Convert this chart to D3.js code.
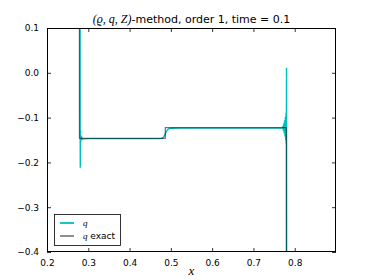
<!DOCTYPE html>
<html>
<head>
<meta charset="utf-8">
<script src="https://cdn.jsdelivr.net/npm/d3@7"></script>
<style>
  body { margin: 0; background: #fff; }
  svg { display: block; }
</style>
</head>
<body>
<div id="viz"></div>
<script>
// numerical solution q
var qX = [0.20, 0.2800, 0.2803, 0.2806, 0.2809, 0.2812, 0.2816, 0.2820, 0.2826, 0.2834, 0.2845, 0.2860, 0.30,
          0.40, 0.470, 0.478, 0.482, 0.485, 0.488, 0.491, 0.494, 0.498, 0.505, 0.52, 0.60, 0.70, 0.765,
          0.7700, 0.7715, 0.7725, 0.7735, 0.7745, 0.7755, 0.7765, 0.7775, 0.7783, 0.7790, 0.7796, 0.7802, 0.7806, 0.90];
var qY = [0.5, 0.5, -0.125, -0.212, -0.128, -0.158, -0.138, -0.152, -0.143, -0.150, -0.145, -0.148, -0.147,
          -0.147, -0.147, -0.1465, -0.144, -0.139, -0.133, -0.128, -0.1255, -0.124, -0.1237, -0.1236, -0.1236, -0.1236, -0.1236,
          -0.1230, -0.119, -0.129, -0.113, -0.135, -0.106, -0.142, -0.098, -0.150, -0.090, -0.157, 0.011, -0.6, -0.6];

// exact solution
var exX = [0.20, 0.2785, 0.2786, 0.4865, 0.4866, 0.7797, 0.7798, 0.90];
var exY = [0.5, 0.5, -0.1465, -0.1465, -0.1225, -0.1225, -0.6, -0.6];

var xTicks = [0.2, 0.3, 0.4, 0.5, 0.6, 0.7, 0.8];
var yTicks = [0.1, 0.0, -0.1, -0.2, -0.3, -0.4];

var width = 374, height = 280;
var margin = {top: 28, right: 38, bottom: 28, left: 47};

var x = d3.scaleLinear().domain([0.2, 0.9]).range([margin.left, width - margin.right]);
var y = d3.scaleLinear().domain([-0.4, 0.1]).range([height - margin.bottom, margin.top]);

var svg = d3.select('#viz').append('svg')
  .attr('width', width)
  .attr('height', height);

svg.append('clipPath').attr('id', 'clip')
  .append('rect')
  .attr('x', margin.left).attr('y', margin.top)
  .attr('width', x.range()[1] - margin.left)
  .attr('height', y.range()[0] - margin.top);

var line = d3.line()
  .x(d => x(d[0]))
  .y(d => y(d[1]));

var qData = qX.map((v, i) => [v, qY[i]]);
var exData = exX.map((v, i) => [v, exY[i]]);

var plot = svg.append('g').attr('clip-path', 'url(#clip)');

plot.append('path')
  .datum(qData)
  .attr('fill', 'none')
  .attr('stroke', '#00bfbf')
  .attr('stroke-width', 1.4)
  .attr('d', line);

plot.append('path')
  .datum(exData)
  .attr('fill', 'none')
  .attr('stroke', '#000')
  .attr('stroke-opacity', 0.55)
  .attr('stroke-width', 1.2)
  .attr('d', line);

// axes, ticks inside on all four sides
var tickFmt = d3.format('.1f');
function minus(s) { return s.replace('-', '\u2212'); }

svg.append('g')
  .attr('transform', 'translate(0,' + y.range()[0] + ')')
  .call(d3.axisBottom(x).tickValues(xTicks).tickSize(-4).tickPadding(8).tickFormat(tickFmt))
  .call(g => g.select('.domain').remove());

svg.append('g')
  .attr('transform', 'translate(0,' + margin.top + ')')
  .call(d3.axisTop(x).tickValues(xTicks).tickSize(-4).tickFormat(''))
  .call(g => g.select('.domain').remove());

svg.append('g')
  .attr('transform', 'translate(' + margin.left + ',0)')
  .call(d3.axisLeft(y).tickValues(yTicks).tickSize(-4).tickPadding(8).tickFormat(d => minus(tickFmt(d))))
  .call(g => g.select('.domain').remove());

svg.append('g')
  .attr('transform', 'translate(' + x.range()[1] + ',0)')
  .call(d3.axisRight(y).tickValues(yTicks).tickSize(-4).tickFormat(''))
  .call(g => g.select('.domain').remove());

svg.selectAll('.tick text')
  .attr('font-family', 'DejaVu Sans')
  .attr('font-size', 9)
  .attr('fill', '#000');
svg.selectAll('.tick line').attr('stroke', '#000').attr('stroke-width', 0.8);

// frame
svg.append('rect')
  .attr('x', margin.left + 0.5).attr('y', margin.top + 0.5)
  .attr('width', x.range()[1] - margin.left - 1)
  .attr('height', y.range()[0] - margin.top - 1)
  .attr('fill', 'none')
  .attr('stroke', '#000')
  .attr('stroke-width', 1);

// title
var title = svg.append('text')
  .attr('x', (margin.left + x.range()[1]) / 2)
  .attr('y', 23)
  .attr('text-anchor', 'middle')
  .attr('font-family', 'DejaVu Sans')
  .attr('font-size', 11);
title.append('tspan')
  .attr('font-family', 'Liberation Serif, DejaVu Serif')
  .attr('font-style', 'italic')
  .attr('font-size', 12)
  .text('(\u03f1, q, Z)');
title.append('tspan').text('-method, order 1, time = 0.1');

// x label
svg.append('text')
  .attr('x', (margin.left + x.range()[1]) / 2)
  .attr('y', 275)
  .attr('text-anchor', 'middle')
  .attr('font-family', 'Liberation Serif, DejaVu Serif')
  .attr('font-style', 'italic')
  .attr('font-size', 13)
  .text('x');

// legend
var legend = svg.append('g').attr('transform', 'translate(54,214)');
legend.append('rect')
  .attr('x', 0.5).attr('y', 0.5)
  .attr('width', 66).attr('height', 31)
  .attr('fill', '#fff')
  .attr('stroke', '#000')
  .attr('stroke-width', 0.8);

var items = [
  {label: 'q', extra: '', color: '#00bfbf', op: 1, w: 1.8},
  {label: 'q', extra: ' exact', color: '#000', op: 0.55, w: 1.6}
];
items.forEach(function(it, i) {
  var yy = 9 + i * 13;
  legend.append('line')
    .attr('x1', 6).attr('x2', 20)
    .attr('y1', yy).attr('y2', yy)
    .attr('stroke', it.color)
    .attr('stroke-opacity', it.op)
    .attr('stroke-width', it.w);
  var t = legend.append('text')
    .attr('x', 29).attr('y', yy + 3)
    .attr('font-family', 'DejaVu Sans')
    .attr('font-size', 9);
  t.append('tspan')
    .attr('font-family', 'Liberation Serif, DejaVu Serif')
    .attr('font-style', 'italic')
    .text(it.label);
  t.append('tspan').text(it.extra);
});
</script>
</body>
</html>
